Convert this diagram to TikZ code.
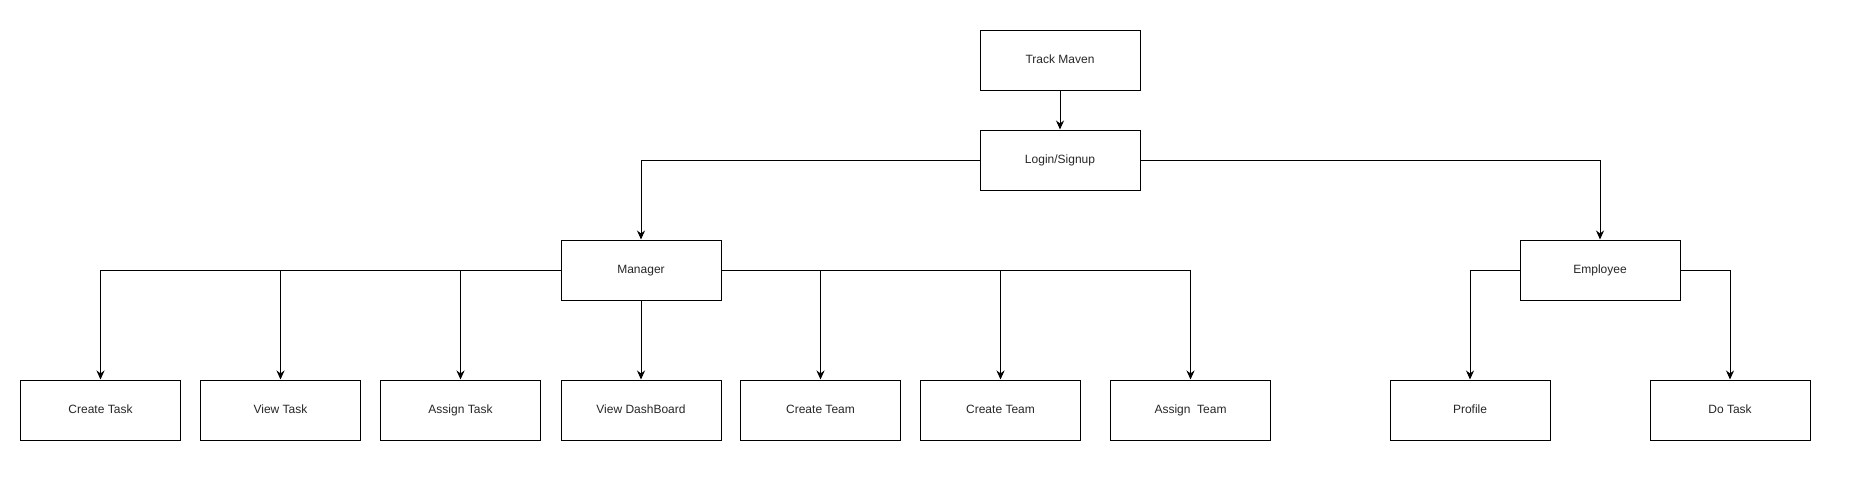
\documentclass[tikz,border=0pt]{standalone}
\usepackage{fontspec}
\setmainfont{Liberation Sans}
\usepackage{tikz}
\usetikzlibrary{arrows.meta,positioning}

\begin{document}
\begin{tikzpicture}[
        x=1pt, y=-1pt,
        box/.style={draw, line width=1pt, minimum width=160pt, minimum height=60pt,
          inner sep=0pt, text height=9pt, text depth=2.5pt,
          font=\fontsize{12}{14}\selectfont, text=black!85},
        link/.style={->, line width=1pt},
        >={Stealth[length=9pt,width=8pt]}
      ]
        \useasboundingbox (0,0) rectangle (1854,482);
        % top
        \node[box] (maven) at (1060,60) {Track Maven};
        \node[box] (login) at (1060,160) {Login/Signup};
        % roles
        \node[box] (manager) at (641,270) {Manager};
        \node[box] (employee) at (1600,270) {Employee};
        % manager tasks
        \node[box] (ctask) at (100.5,410) {Create Task};
        \node[box] (vtask) at (280.5,410) {View Task};
        \node[box] (atask) at (460.5,410) {Assign Task};
        \node[box] (dash) at (641,410) {View DashBoard};
        \node[box] (cteam) at (820.5,410) {Create Team};
        \node[box] (cteamb) at (1000.5,410) {Create Team};
        \node[box] (ateam) at (1190.5,410) {Assign\ \ Team};
        % employee tasks
        \node[box] (profile) at (1470,410) {Profile};
        \node[box] (dotask) at (1730,410) {Do Task};

        \draw[link] (maven) -- (login);
        \draw[link] (login.west) -| (manager.north);
        \draw[link] (login.east) -| (employee.north);
        \draw[link] (manager.west) -| (ctask.north);
        \draw[link] (manager.west) -| (vtask.north);
        \draw[link] (manager.west) -| (atask.north);
        \draw[link] (manager) -- (dash);
        \draw[link] (manager.east) -| (cteam.north);
        \draw[link] (manager.east) -| (cteamb.north);
        \draw[link] (manager.east) -| (ateam.north);
        \draw[link] (employee.west) -| (profile.north);
        \draw[link] (employee.east) -| (dotask.north);
      \end{tikzpicture}
\end{document}
